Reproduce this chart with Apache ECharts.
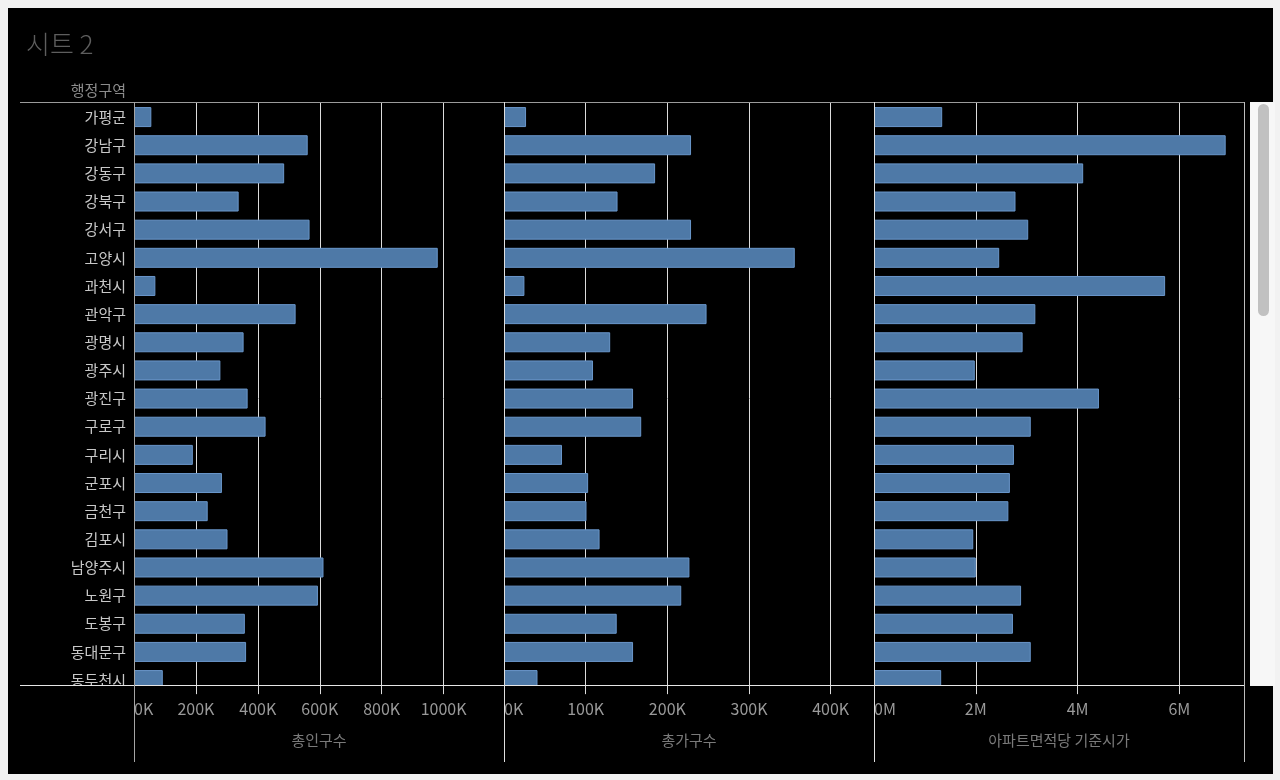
<!DOCTYPE html>
<html>
<head>
<meta charset="utf-8">
<style>
  html, body { margin: 0; padding: 0; background: #f2f2f2; }
  #app { width: 1280px; height: 780px; }
</style>
<script src="https://cdn.jsdelivr.net/npm/echarts@6/dist/echarts.min.js"></script>
</head>
<body>
<div id="app"></div>
<script>
const districts = ['가평군', '강남구', '강동구', '강북구', '강서구', '고양시', '과천시', '관악구', '광명시', '광주시', '광진구',
  '구로구', '구리시', '군포시', '금천구', '김포시', '남양주시', '노원구', '도봉구', '동대문구', '동두천시']
const population = [56000, 561000, 485000, 338000, 567000, 981000, 69000, 522000, 354000, 279000, 367000,
  425000, 190000, 284000, 238000, 302000, 612000, 594000, 358000, 362000, 93000]
const households = [27000, 229000, 185000, 139000, 229000, 356000, 25000, 248000, 130000, 109000, 158000,
  168000, 71000, 103000, 101000, 117000, 227000, 217000, 138000, 158000, 41000]
const pricePerArea = [1340000, 6910000, 4110000, 2780000, 3030000, 2460000, 5720000, 3170000, 2920000, 1980000, 4420000,
  3080000, 2750000, 2670000, 2640000, 1950000, 2000000, 2890000, 2730000, 3080000, 1320000]

const measureNames = ['총인구수', '총가구수', '아파트면적당 기준시가']
const axisMax = [1195000, 453000, 7270000]
const axisStep = [200000, 100000, 2000000]
const tickUnit = [[1000, 'K'], [1000, 'K'], [1000000, 'M']]
const seriesData = [population, households, pricePerArea]

// 화면 배치
const FONT = "'Noto Sans CJK KR', 'Noto Sans', sans-serif"
const GRID_TOP = 103
const ROW = 28.15
const GRID_H = ROW * districts.length
const PANEL_X = [134, 504, 874]
const PANEL_W = 370
const CUT_Y = 685.5

const echart = echarts.init(document.getElementById('app'))

const grids = PANEL_X.map(x => ({
  left: x,
  top: GRID_TOP,
  width: PANEL_W,
  height: GRID_H,
  outerBoundsMode: 'none',
  containLabel: false
}))

const xAxes = []
measureNames.forEach((name, i) => {
  // 눈금선
  xAxes.push({
    type: 'value',
    gridIndex: i,
    position: 'bottom',
    min: 0,
    max: axisMax[i],
    interval: axisStep[i],
    axisLine: { show: false },
    axisTick: { show: false },
    axisLabel: { show: false },
    splitLine: { lineStyle: { color: '#dcdcdc', width: 1 } }
  })
  // 눈금, 라벨, 축 제목
  xAxes.push({
    type: 'value',
    gridIndex: i,
    position: 'bottom',
    offset: 0,
    min: 0,
    max: axisMax[i],
    interval: axisStep[i],
    z: 60,
    name: name,
    nameLocation: 'middle',
    nameGap: 39,
    nameTextStyle: { color: '#7a7a7a', fontSize: 15, fontFamily: FONT },
    axisLine: { show: false },
    axisTick: { show: true, inside: true, length: 9, lineStyle: { color: '#dcdcdc' } },
    splitLine: { show: false },
    axisLabel: {
      color: '#9a9a9a',
      fontSize: 16,
      fontFamily: FONT,
      margin: 7,
      alignMinLabel: 'left',
      showMaxLabel: false,
      formatter(v) {
        return Math.round(v / tickUnit[i][0]) + tickUnit[i][1]
      }
    }
  })
})

const yAxes = measureNames.map((n, i) => ({
  type: 'category',
  gridIndex: i,
  inverse: true,
  data: districts,
  axisLine: { show: false },
  axisTick: { show: false },
  splitLine: { show: false },
  axisLabel: {
    show: i === 0,
    color: '#c8c8c8',
    fontSize: 15,
    fontFamily: FONT,
    margin: 8,
    interval: 0
  }
}))

const series = seriesData.map((d, i) => ({
  type: 'bar',
  name: measureNames[i],
  xAxisIndex: i * 2,
  yAxisIndex: i,
  data: d,
  barWidth: 20,
  itemStyle: {
    color: '#4e79a7',
    borderColor: '#6a97cb',
    borderWidth: 1
  }
}))

const lineStyle = (color) => ({ stroke: color, lineWidth: 1 })

const graphic = [
  { type: 'rect', z: -10, shape: { x: 8, y: 8, width: 1265, height: 766 }, style: { fill: '#000' } },
  // 스크롤로 잘린 마지막 행 가리기
  { type: 'rect', z: 50, shape: { x: 20, y: CUT_Y, width: 1224, height: 10 }, style: { fill: '#000' } },
  { type: 'line', z: 70, shape: { x1: 20, y1: 102.5, x2: 1244, y2: 102.5 }, style: lineStyle('#9b9b9b') },
  { type: 'line', z: 70, shape: { x1: 20, y1: CUT_Y, x2: 1244, y2: CUT_Y }, style: lineStyle('#e6e6e6') },
  { type: 'line', z: 70, shape: { x1: 134.5, y1: 102, x2: 134.5, y2: 762 }, style: lineStyle('#a5a5a5') },
  { type: 'line', z: 70, shape: { x1: 504.5, y1: 102, x2: 504.5, y2: 762 }, style: lineStyle('#e0e0e0') },
  { type: 'line', z: 70, shape: { x1: 874.5, y1: 102, x2: 874.5, y2: 762 }, style: lineStyle('#e0e0e0') },
  { type: 'line', z: 70, shape: { x1: 1244.5, y1: 102, x2: 1244.5, y2: 762 }, style: lineStyle('#bdbdbd') },
  { type: 'text', z: 70, x: 126, y: 90, style: { text: '행정구역', fill: '#8c8c8c', font: `15px ${FONT}`, align: 'right', verticalAlign: 'middle' } },
  // 스크롤바
  { type: 'rect', z: 70, shape: { x: 1250, y: 102, width: 25, height: 584 }, style: { fill: '#f7f7f7' } },
  { type: 'rect', z: 71, shape: { x: 1258, y: 104, width: 11, height: 212, r: 5.5 }, style: { fill: '#c1c1c1' } }
]

echart.setOption({
  backgroundColor: '#f2f2f2',
  animation: false,
  textStyle: { fontFamily: FONT },
  title: {
    text: '시트 2',
    left: 21,
    top: 26,
    textStyle: { color: '#5e5e5e', fontSize: 26, fontWeight: 300, fontFamily: FONT }
  },
  grid: grids,
  xAxis: xAxes,
  yAxis: yAxes,
  series: series,
  graphic: graphic
})
</script>
</body>
</html>
